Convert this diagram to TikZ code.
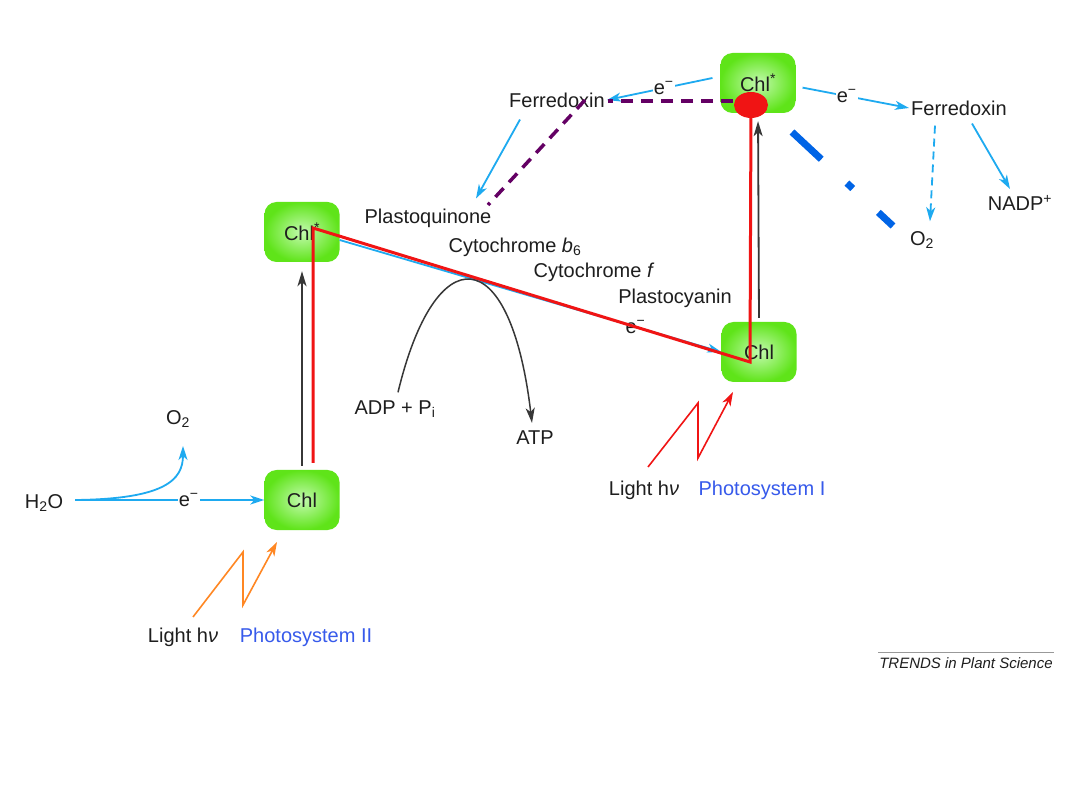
\documentclass[tikz,border=0pt]{standalone}
\usepackage{fontspec}
\setmainfont{Liberation Sans}
\usetikzlibrary{arrows.meta,calc}
\definecolor{eblue}{RGB}{30,170,240}
\definecolor{psblue}{RGB}{55,90,235}
\definecolor{txt}{RGB}{30,30,30}
\definecolor{chlin}{RGB}{195,250,175}
\definecolor{chlout}{RGB}{95,228,25}
\definecolor{purp}{RGB}{100,0,100}
\definecolor{dblue}{RGB}{0,100,230}
\definecolor{redl}{RGB}{240,20,20}
\definecolor{orangel}{RGB}{255,135,35}
\definecolor{darkar}{RGB}{55,55,55}
\tikzset{
  chlbox/.style={rounded corners=12pt, minimum width=75pt, minimum height=60pt,
    inner color=chlin, outer color=chlout, text=txt, font=\fontsize{20}{24}\selectfont},
  lbl/.style={text=txt, font=\fontsize{20}{24}\selectfont, inner sep=2pt},
  elbl/.style={lbl, fill=white, inner sep=1pt},
  bluearr/.style={draw=eblue, line width=1.8pt, -{Stealth[length=14pt,width=9pt,inset=4pt]}},
  blackarr/.style={draw=darkar, line width=1.8pt, -{Stealth[length=15pt,width=9pt,inset=4pt]}},
  zigzag/.style={line width=1.6pt, -{Stealth[length=14pt,width=9pt,inset=4pt]}},
  purpdash/.style={draw=purp, line width=3.5pt, dash pattern=on 12pt off 8pt},
  redpath/.style={draw=redl, line width=3pt, line join=miter},
}
\begin{document}
\begin{tikzpicture}[x=1pt,y=-1pt]
\useasboundingbox[fill=white] (0,0) rectangle (1080,810);

% Chlorophyll boxes
\node[chlbox] (c2)  at (302,500) {Chl};
\node[chlbox] (c2s) at (302,232) {Chl\textsuperscript{*}};
\node[chlbox] (c1)  at (759,352) {Chl};
\node[chlbox] (c1s) at (758,83)  {Chl\textsuperscript{*}};

% labels
\node[lbl] (fdL)  at (557,100) {Ferredoxin};
\node[lbl] (fdR)  at (959,108) {Ferredoxin};
\node[lbl] (nadp) at (1020,203) {NADP\textsuperscript{+}};
\node[lbl] (o2R)  at (922,240) {O\textsubscript{2}};
\node[lbl] (pq)   at (428,218) {Plastoquinone};
\node[lbl] (cyb)  at (515,247) {Cytochrome \textit{b}\textsubscript{6}};
\node[lbl] (cyf)  at (594,272) {Cytochrome \textit{f}};
\node[lbl] (pc)   at (675,298) {Plastocyanin};
\node[lbl] (adp)  at (395,409) {ADP + P\textsubscript{i}};
\node[lbl] (atp)  at (535,438) {ATP};
\node[lbl] (o2L)  at (178,419) {O\textsubscript{2}};
\node[lbl] (h2o)  at (44,503)  {H\textsubscript{2}O};
\node[lbl] (l2)   at (183,637) {Light h\textit{ν}};
\node[lbl, text=psblue] (ps2) at (306,637) {Photosystem II};
\node[lbl] (l1)   at (644,490) {Light h\textit{ν}};
\node[lbl, text=psblue] (ps1) at (762,490) {Photosystem I};
\node[text=txt, font=\itshape\fontsize{15}{18}\selectfont, inner sep=1pt] (tr) at (966,663) {TRENDS in Plant Science};
\draw[gray!80, line width=1.5pt] ($(tr.north west)+(0,-4)$) -- ($(tr.north east)+(0,-4)$);

% coordinates for free ends
\coordinate (w)     at ($(h2o.east)+(10,-3)$);
\coordinate (o2tip) at (183,446);
\coordinate (z2a) at (193,617);
\coordinate (z2b) at (243,552);
\coordinate (z2c) at (243,605);
\coordinate (z2d) at (277,542);
\coordinate (z1a) at (648,467);
\coordinate (z1b) at (698,403);
\coordinate (z1c) at (698,458);
\coordinate (z1d) at (733,392);

% blue electron-flow arrows
\draw[bluearr] (w) -- node[elbl, pos=.6] {e\textsuperscript{−}} (c2.west);
\draw[bluearr] (w) .. controls (165,499) and (183,480) .. (o2tip);
\draw[bluearr, shorten <=8pt] (c1s.170) -- node[elbl, pos=.5] {e\textsuperscript{−}} (fdL.east);
\draw[bluearr, shorten <=7pt] (c1s.-5) -- node[elbl, pos=.45] {e\textsuperscript{−}} (fdR.west);
\draw[bluearr, dash pattern=on 8pt off 5pt] ($(fdR.south)+(-24,8)$) -- ($(o2R.north)+(8,-8)$);
\draw[bluearr] ($(fdR.south)+(13,6)$) -- ($(nadp.north)+(-10,-4)$);
\draw[bluearr] ($(fdL.south)+(-37,10)$) -- ($(pq.north)+(48,-8)$);
\draw[bluearr] (c2s.-12) -- node[elbl, pos=.775] {e\textsuperscript{−}} (c1.west);

% excitation arrows
\draw[blackarr, shorten <=4pt, shorten >=9pt] (c2.north) -- (c2s.south);
\draw[blackarr, shorten <=4pt, shorten >=8pt] (c1.north) -- (c1s.south);

% ATP synthesis
\draw[blackarr, line width=1.5pt] ($(adp.north)+(3,-6)$) .. controls (435,238) and (510,238) .. ($(atp.north)+(-3,-6)$);

% light
\draw[zigzag, draw=orangel] (z2a) -- (z2b) -- (z2c) -- (z2d);
\draw[zigzag, draw=redl] (z1a) -- (z1b) -- (z1c) -- (z1d);

% overlays
\draw[purpdash] (733,101) -- (608,101);
\draw[purpdash] (585,100) -- (488,205);
\draw[redpath] (313,463) -- (313,228) -- (750,362) -- (751,106);
\fill[redl] (751,105) ellipse [x radius=17, y radius=13];
\draw[dblue, line width=7pt, dash pattern=on 40pt off 35pt on 8pt off 35pt on 20pt] (792,132) -- (893,226);
\end{tikzpicture}
\end{document}
